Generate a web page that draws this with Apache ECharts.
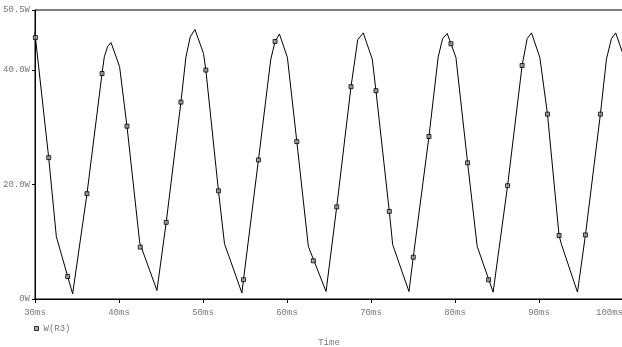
<!DOCTYPE html>
<html>
<head>
<meta charset="utf-8">
<script src="https://cdn.jsdelivr.net/npm/echarts@6/dist/echarts.min.js"></script>
<style>
html,body{margin:0;padding:0;background:#fff;}
#chart{width:622px;height:347px;}
</style>
</head>
<body>
<div id="chart"></div>
<script>
// Trace vertices: time (ms) and power (W)
var lineTime = [30.00,30.05,31.63,32.54,34.48,36.19,37.98,38.25,38.64,39.05,40.07,40.95,42.47,44.52,
  45.62,47.37,47.97,48.48,49.04,50.06,50.34,51.84,52.56,54.63,
  54.82,56.60,58.07,58.58,59.10,60.05,61.17,62.54,64.65,
  65.92,67.62,68.42,69.08,70.15,70.59,72.18,72.58,74.52,
  75.03,76.90,78.00,78.53,79.07,79.52,80.11,81.50,82.64,84.54,
  86.26,87.99,88.59,89.11,90.10,91.01,92.39,92.68,94.58,
  95.53,97.31,98.03,98.62,99.13,100.0];
var linePower = [46.7,45.7,24.7,10.9,0.9,18.4,39.4,42.3,44.1,44.8,40.6,30.2,9.8,1.5,
  13.4,34.4,42.3,45.8,47.1,42.9,40.0,18.9,9.65,1.05,
  3.37,24.3,41.9,45.0,46.3,42.2,27.5,9.2,1.3,
  16.1,37.1,45.3,46.5,41.9,36.4,15.3,9.5,1.3,
  7.3,28.4,42.3,45.5,46.4,44.6,42.2,23.8,9.2,1.2,
  19.8,40.8,45.5,46.5,42.2,32.3,11.1,9.5,1.2,
  11.2,32.3,41.9,45.5,46.5,42.8];
// Trace markers
var markerTime = [30.05,31.63,33.89,36.19,37.98,40.95,42.53,45.62,47.37,50.34,51.84,54.82,56.60,58.58,61.17,63.14,
  65.92,67.62,70.59,72.18,75.03,76.90,79.52,81.50,84.00,86.26,87.99,91.01,92.39,95.53,97.31];
var markerPower = [45.7,24.7,3.94,18.4,39.4,30.2,9.07,13.4,34.4,40.0,18.9,3.37,24.3,45.0,27.5,6.68,
  16.1,37.1,36.4,15.3,7.3,28.4,44.6,23.8,3.37,19.8,40.8,32.3,11.1,11.2,32.3];
var yTicks = [0, 20, 40, 50.5];
var xTicks = [30, 40, 50, 60, 70, 80, 90, 100];
var seriesName = 'W(R3)';
var axisTitle = 'Time';

function zip(a, b){ return a.map(function(v,i){ return [v, b[i]]; }); }
var FONT = '"Liberation Mono", "DejaVu Sans Mono", monospace';
var chart = echarts.init(document.getElementById('chart'), null, {renderer:'canvas'});
chart.setOption({
  animation: false,
  backgroundColor: '#fff',
  grid: {left: 35, right: -1, top: 10, bottom: 48, show: true, borderColor: '#000', borderWidth: 1,
    containLabel: false, outerBoundsMode: 'none'},
  legend: {
    data: [{name: seriesName, icon: 'rect'}],
    left: 34, top: 324, padding: 0, itemWidth: 4, itemHeight: 4,
    textStyle: {fontFamily: FONT, fontSize: 9, color: '#777'},
    itemStyle: {color: '#999', borderColor: '#000', borderWidth: 1}
  },
  xAxis: {
    type: 'value', min: 30, max: 100, interval: 10,
    name: axisTitle, nameLocation: 'middle', nameGap: 39,
    nameTextStyle: {fontFamily: FONT, fontSize: 9, color: '#777'},
    axisLine: {show: true, lineStyle: {color: '#000', width: 1}},
    axisTick: {show: true, length: 4, lineStyle: {color: '#000'}, customValues: xTicks},
    axisLabel: {fontFamily: FONT, fontSize: 9, color: '#777', margin: 9, customValues: xTicks,
      formatter: function(v){ return v + 'ms'; }, showMaxLabel: true, showMinLabel: true,
      alignMaxLabel: 'right'},
    splitLine: {show: false}
  },
  yAxis: {
    type: 'value', min: 0, max: 50.5,
    axisLine: {show: true, lineStyle: {color: '#000', width: 1}},
    axisTick: {show: true, length: 3, lineStyle: {color: '#000'}, customValues: yTicks},
    axisLabel: {fontFamily: FONT, fontSize: 9, color: '#777', margin: 5, customValues: yTicks,
      formatter: function(v){ return v === 0 ? '0W' : v.toFixed(1) + 'W'; }},
    splitLine: {show: false}
  },
  series: [
    {type: 'line', data: zip(lineTime, linePower), showSymbol: false, symbol: 'none',
      lineStyle: {color: '#000', width: 1}, silent: true, z: 2},
    {type: 'scatter', name: seriesName, data: zip(markerTime, markerPower), symbol: 'rect', symbolSize: 4,
      itemStyle: {color: '#999', borderColor: '#000', borderWidth: 1}, z: 3}
  ]
});
</script>
</body>
</html>
